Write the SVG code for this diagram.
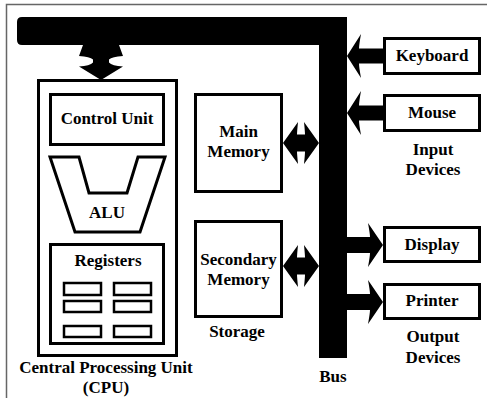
<svg xmlns="http://www.w3.org/2000/svg" width="487" height="398" viewBox="0 0 487 398">
<style>
.box{fill:#fff;stroke:#000;stroke-width:3}
.reg{fill:#fff;stroke:#000;stroke-width:2.5}
.t{font-family:"Liberation Serif","Times New Roman",serif;font-weight:bold;font-size:17px;fill:#000;text-anchor:middle}
.frame{stroke:#666;stroke-width:1.5;fill:none}
.blk{fill:#000}
</style>
<rect width="487" height="398" fill="#fff"/>
<path class="frame" d="M6.5,398 V4.5 H487"/>
<g id="connectors">
<path id="bus" class="blk" d="M22,17 H347 V358 H319 V45 H22 Q17,45 17,40 V22 Q17,17 22,17 Z"/>
<path id="cpu-bus" class="blk" d="M83,45 L119,45 L123,56 Q112,56.5 109,59.5 L109,62.5 Q112,66 123,66.5 L101,80 L79,66.5 Q90,66 93,62.5 L93,59.5 Q90,56.5 79,56 Z"/>
<path id="main-bus" class="blk" d="M283,143 L298,122 Q297,132 297,134.5 L305,134.5 Q305,132 304,122 L319,143 L304,164 Q305,154 305,151.5 L297,151.5 Q297,154 298,164 Z"/>
<path id="sec-bus" class="blk" d="M283,266 L298,245 Q297,255 297,257.5 L305,257.5 Q305,255 304,245 L319,266 L304,287 Q305,277 305,274.5 L297,274.5 Q297,277 298,287 Z"/>
<path id="kbd-bus" class="blk" d="M347,56 L361,34 Q359,45 359,48.5 L384,48.5 L384,63.5 L359,63.5 Q359,67 361,78 Z"/>
<path id="mouse-bus" class="blk" d="M347,113 L361,91 Q359,102 359,105.5 L384,105.5 L384,120.5 L359,120.5 Q359,124 361,135 Z"/>
<path id="bus-display" class="blk" d="M383,245 L368,223 Q370,234 370,237 L346,237 L346,253 L370,253 Q370,256 368,267 Z"/>
<path id="bus-printer" class="blk" d="M383,302 L368,280 Q370,291 370,294 L346,294 L346,310 L370,310 Q370,313 368,324 Z"/>
</g>
<g id="cpu">
<rect class="box" x="38.5" y="80.5" width="138" height="275"/>
<text class="t" x="106" y="373">Central Processing Unit</text>
<text class="t" x="106" y="393">(CPU)</text>
</g>
<g id="control-unit">
<rect class="box" x="50.5" y="94.5" width="113" height="50"/>
<text class="t" x="107" y="124">Control Unit</text>
</g>
<g id="alu">
<polygon class="box" points="50,157 79,157 89,193 127,193 138,157 165,157 140,232 75,232"/>
<text class="t" x="107" y="218">ALU</text>
</g>
<g id="registers">
<rect class="box" x="50.5" y="244.5" width="113" height="99"/>
<text class="t" x="108" y="266">Registers</text>
<rect class="reg" x="64" y="283" width="37" height="12"/>
<rect class="reg" x="114" y="283" width="37" height="12"/>
<rect class="reg" x="64" y="301" width="37" height="11"/>
<rect class="reg" x="114" y="301" width="37" height="11"/>
<rect class="reg" x="64" y="326" width="37" height="11"/>
<rect class="reg" x="114" y="326" width="37" height="11"/>
</g>
<g id="main-memory">
<rect class="box" x="195.5" y="94.5" width="86" height="97"/>
<text class="t" x="238.5" y="137">Main</text>
<text class="t" x="238.5" y="157">Memory</text>
</g>
<g id="secondary-memory">
<rect class="box" x="195.5" y="221.5" width="86" height="95"/>
<text class="t" x="238.5" y="265">Secondary</text>
<text class="t" x="238.5" y="285">Memory</text>
<text class="t" x="237" y="337">Storage</text>
</g>
<g id="keyboard">
<rect class="box" x="384.5" y="38.5" width="95" height="35"/>
<text class="t" x="432" y="61">Keyboard</text>
</g>
<g id="mouse">
<rect class="box" x="384.5" y="95.5" width="95" height="35"/>
<text class="t" x="432" y="118">Mouse</text>
<text class="t" x="433" y="155">Input</text>
<text class="t" x="433" y="175">Devices</text>
</g>
<g id="display">
<rect class="box" x="384.5" y="227.5" width="95" height="34"/>
<text class="t" x="432" y="250">Display</text>
</g>
<g id="printer">
<rect class="box" x="384.5" y="284.5" width="95" height="34"/>
<text class="t" x="432" y="306">Printer</text>
<text class="t" x="433" y="342">Output</text>
<text class="t" x="433" y="363">Devices</text>
</g>
<g id="bus-label">
<text class="t" x="333" y="382">Bus</text>
</g>
</svg>
